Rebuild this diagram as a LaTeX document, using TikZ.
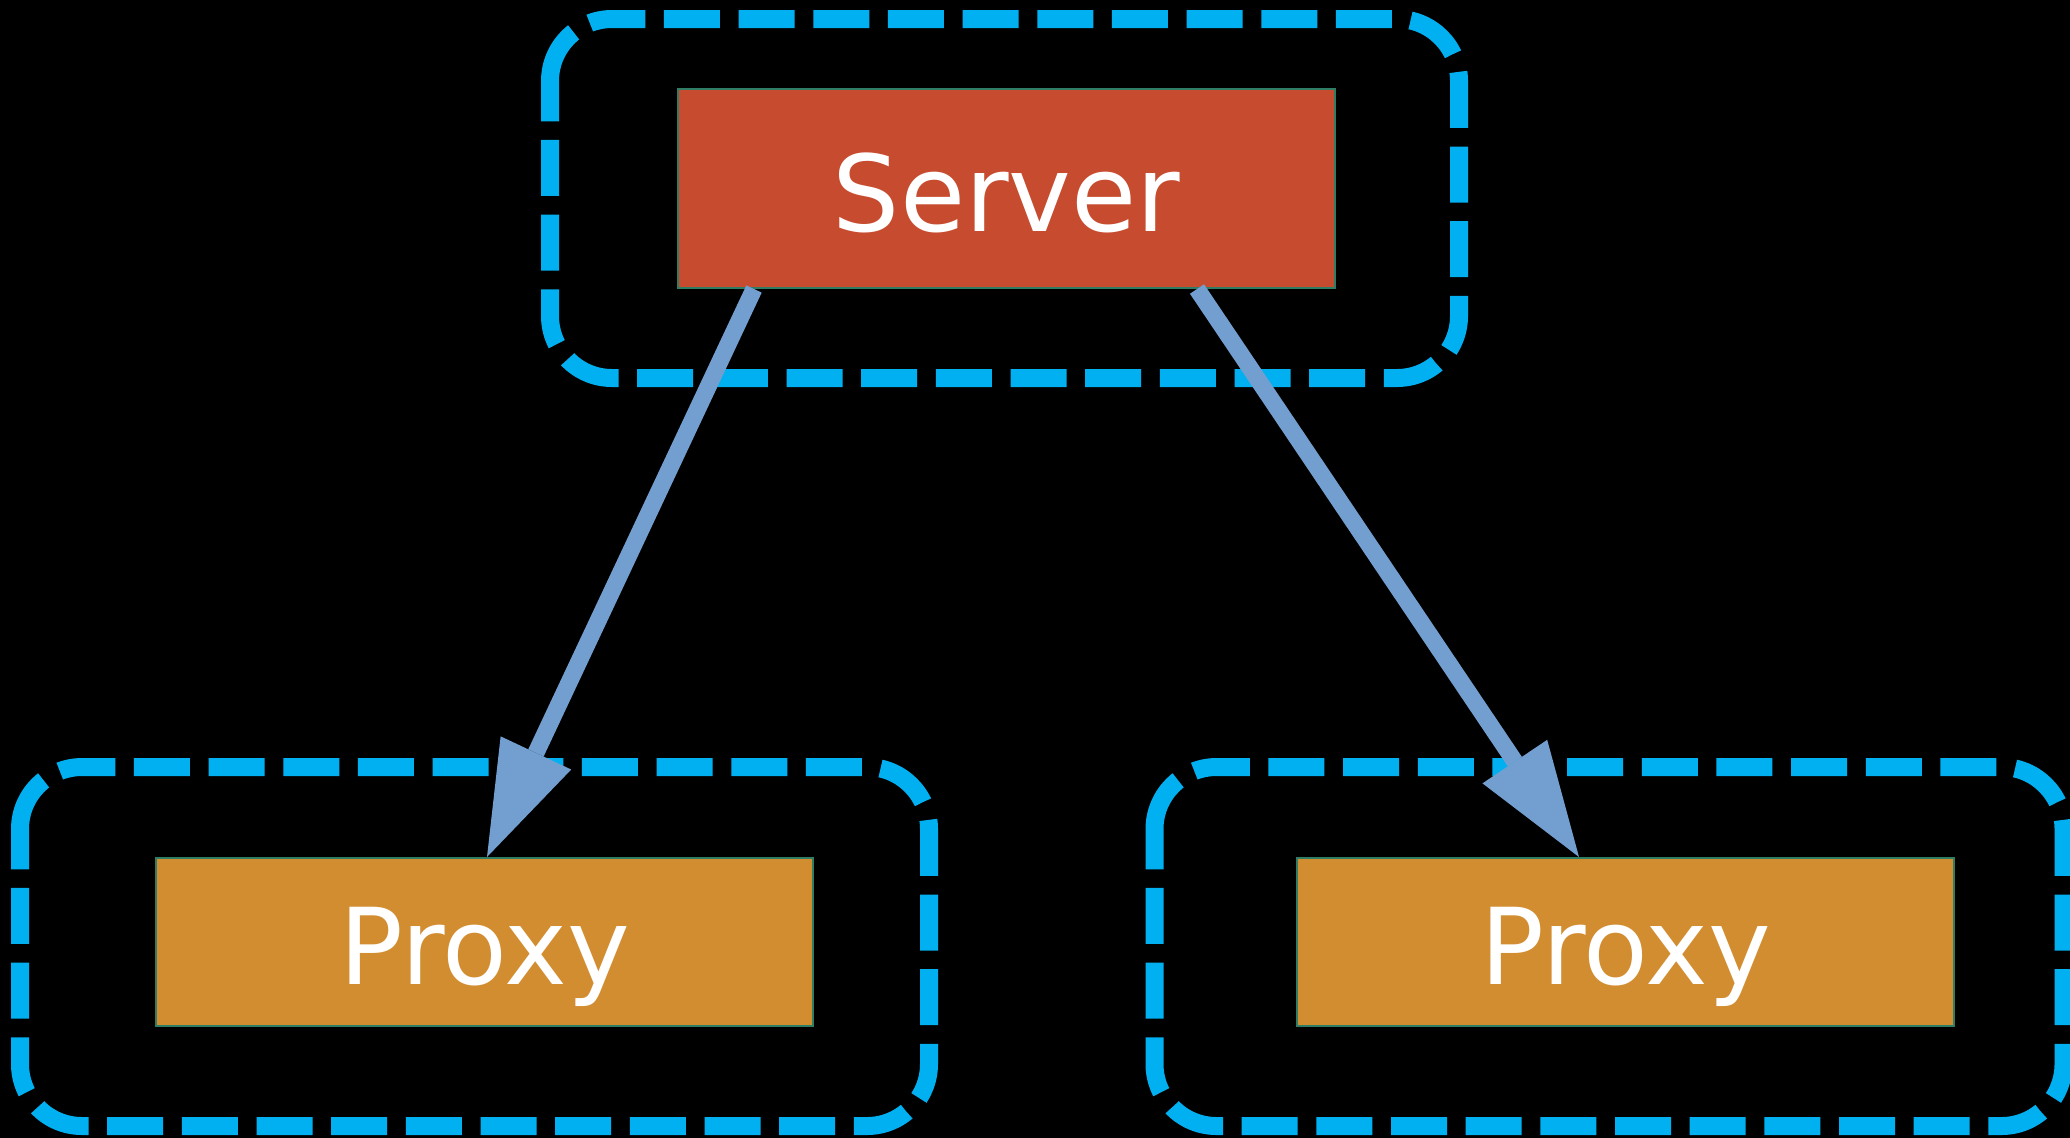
\documentclass[tikz,border=0pt]{standalone}
\usepackage{fontspec}
\setmainfont{DejaVu Sans}
\usetikzlibrary{arrows.meta}
\definecolor{clusblue}{HTML}{00B0F0}
\definecolor{edgeblue}{HTML}{729FCF}
\definecolor{servfill}{HTML}{C74B2E}
\definecolor{proxfill}{HTML}{D38D31}
\definecolor{nodeline}{HTML}{2E7D64}
\begin{document}
\begin{tikzpicture}[x=0.5pt,y=-0.5pt,
  clusterbox/.style={draw=clusblue,line width=9pt,rounded corners=31pt,dash pattern=on 28pt off 9.333pt,dash phase=0pt},
  boxnode/.style={draw=nodeline,line width=1pt,inner sep=0pt,minimum width=328.5pt,text=white,font=\fontsize{53pt}{60pt}\selectfont,text height=42.7pt,text depth=0pt},
  servernode/.style={boxnode,fill=servfill,minimum height=99.5pt},
  proxynode/.style={boxnode,fill=proxfill,minimum height=84pt},
  conn/.style={draw=edgeblue,line width=8.5pt,-{Triangle[length=57.5pt,width=39pt,line width=0pt]}}]
\useasboundingbox (0,0) rectangle (2070,1137);
\fill[black] (-20,-20) rectangle (2090,1157);
\draw[clusterbox] (550,81) -- (550,19) -- (1459,19) -- (1459,378) -- (550,378) -- (550,81);
\draw[clusterbox] (20,829) -- (20,767) -- (929,767) -- (929,1126) -- (20,1126) -- (20,829);
\draw[clusterbox] (1154.5,829) -- (1154.5,767) -- (2063.5,767) -- (2063.5,1126) -- (1154.5,1126) -- (1154.5,829);
\node[servernode] (server) at (1006.5,188.5) {Server};
\node[proxynode] (proxyL) at (484.5,942) {Proxy};
\node[proxynode] (proxyR) at (1625.5,942) {Proxy};
\draw[conn] ([xshift=38.5pt]server.south west) -- ([xshift=166pt]proxyL.north west);
\draw[conn] ([xshift=260pt]server.south west) -- ([xshift=141.5pt]proxyR.north west);
\end{tikzpicture}
\end{document}
